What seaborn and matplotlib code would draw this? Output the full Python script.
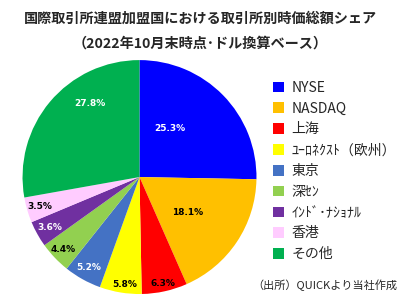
import matplotlib
matplotlib.use("Agg")
import matplotlib.pyplot as plt
import seaborn as sns
import numpy as np
from matplotlib.patches import Patch

sns.set_theme(style="white")
plt.rcParams['font.family'] = ['Noto Sans CJK JP', 'DejaVu Sans']

title = "国際取引所連盟加盟国における取引所別時価総額シェア\n（2022年10月末時点･ドル換算ベース）"
categories = ["NYSE", "NASDAQ", "上海", "ﾕｰﾛﾈｸｽﾄ（欧州）", "東京", "深ｾﾝ", "ｲﾝﾄﾞ･ﾅｼｮﾅﾙ", "香港", "その他"]
shares = [25.3, 18.1, 6.3, 5.8, 5.2, 4.4, 3.6, 3.5, 27.8]
source = "（出所）QUICKより当社作成"

colors = ["#0000FF", "#FFC000", "#FF0000", "#FFFF00", "#4472C4", "#92D050", "#7030A0", "#FFCCFF", "#00B050"]
label_colors = ["white", "black", "black", "black", "white", "black", "white", "black", "white"]
label_radius = [0.49, 0.51, 0.93, 0.93, 0.89, 0.90, 0.88, 0.89, 0.76]
label_angle_shift = [14, -3, 0, 1.5, 0, 0, 0, 0, -16]

fig = plt.figure(figsize=(4.0, 3.05), dpi=100)
ax = fig.add_axes([0.05625, 0.036, 0.585, 0.767])
wedges, _ = ax.pie(shares, colors=colors, startangle=90, counterclock=False,
                   radius=1.0, wedgeprops=dict(linewidth=0))
ax.set_xlim(-1, 1)
ax.set_ylim(-1, 1)
ax.set_aspect('equal')
ax.axis('off')

for w, v, c, r, s in zip(wedges, shares, label_colors, label_radius, label_angle_shift):
    ang = np.deg2rad((w.theta1 + w.theta2) / 2 + s)
    ax.text(r * np.cos(ang), r * np.sin(ang), f"{v:.1f}%", ha='center', va='center',
            fontsize=6.5, fontweight='bold', color=c, family=['DejaVu Sans'])

fig.text(0.5, 0.898, title, ha='center', va='center', fontsize=10.2,
         fontweight='bold', linespacing=1.95)

handles = [Patch(facecolor=col, edgecolor='none') for col in colors]
fig.legend(handles, categories, loc='upper left', bbox_to_anchor=(0.683, 0.735),
           frameon=False, fontsize=10, handlelength=0.8, handleheight=0.8,
           handletextpad=0.5, labelspacing=0.49, borderaxespad=0, borderpad=0)

fig.text(0.993, 0.065, source, ha='right', va='center', fontsize=8)

fig.savefig("out.png", dpi=100)
